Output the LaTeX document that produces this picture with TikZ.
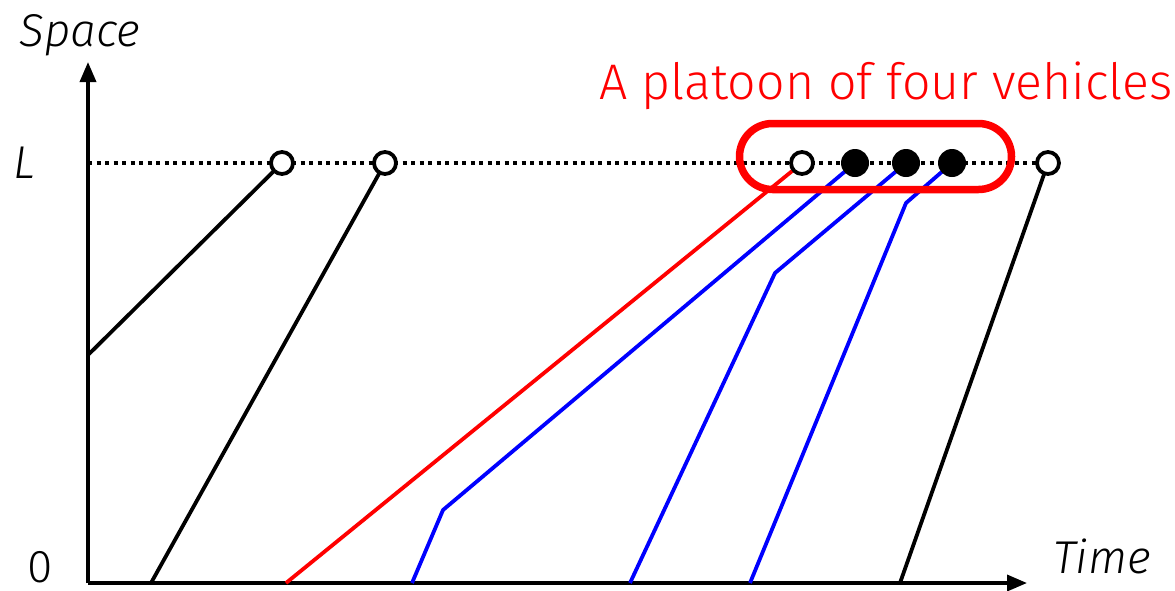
\documentclass[tikz,border=0pt]{standalone}
\usepackage{fontspec}
\setmainfont{Fira Sans Light}
\usetikzlibrary{arrows.meta}
\definecolor{pred}{RGB}{255,0,0}
\definecolor{pblue}{RGB}{0,0,255}
\begin{document}
\begin{tikzpicture}[x=1pt,y=-1pt,
  axis/.style={line width=3.5pt,-{Triangle[length=20pt,width=16pt]}},
  traj/.style={line width=3.8pt,line join=round},
  opendot/.style={circle,draw=black,fill=white,line width=3.8pt,minimum size=22pt,inner sep=0pt},
  fulldot/.style={circle,fill=black,minimum size=28pt,inner sep=0pt},
  lbl/.style={font=\fontsize{46}{46}\selectfont\itshape,inner sep=0pt},
  lblup/.style={font=\fontsize{46}{46}\selectfont,inner sep=0pt}]
\useasboundingbox (0,0) rectangle (1175,590);
% axes
\coordinate (O) at (88,583);
\coordinate (ytip) at (88,62);
\coordinate (xtip) at (1027,583);
\coordinate (Lstart) at (88,163);
\draw[axis] (O) -- (ytip);
\draw[axis] (O) -- (xtip);
% labels
\node[lbl] (space) at (80,35) {Space};
\node[lbl] (time) at (1102,556) {Time};
\node[lbl] (Llab) at (24,163) {L};
\node[lblup] (zero) at (40,567) {0};
\node[font=\fontsize{50}{50}\selectfont,text=pred,inner sep=0pt] (title) at (886,86) {A platoon of four vehicles};
% dotted L line
\coordinate (Lend) at (1048,163);
\draw[line width=3.5pt,dash pattern=on 4pt off 4.5pt] (Lstart) -- (Lend);
% trajectory points
\coordinate (a0) at (88,355);
\coordinate (b0) at (151,583);
\coordinate (r0) at (286,583);
\coordinate (u0) at (412,583);
\coordinate (u1) at (443,510);
\coordinate (v0) at (630,583);
\coordinate (v1) at (775,273);
\coordinate (w0) at (750,583);
\coordinate (w1) at (906,203);
\coordinate (c0) at (900,583);
% end points at L
\coordinate (A) at (282,163);
\coordinate (B) at (385,163);
\coordinate (R) at (802,163);
\coordinate (U) at (855,163);
\coordinate (V) at (906,163);
\coordinate (W) at (952,163);
\coordinate (C) at (1048,163);
% trajectories
\draw[traj] (a0) -- (A);
\draw[traj] (b0) -- (B);
\draw[traj,pred] (r0) -- (R);
\draw[traj,pblue] (u0) -- (u1) -- (U);
\draw[traj,pblue] (v0) -- (v1) -- (V);
\draw[traj,pblue] (w0) -- (w1) -- (W);
\draw[traj] (c0) -- (C);
% dots
\node[opendot] (dA) at (A) {};
\node[opendot] (dB) at (B) {};
\node[opendot] (dR) at (R) {};
\node[fulldot] (dU) at (U) {};
\node[fulldot] (dV) at (V) {};
\node[fulldot] (dW) at (W) {};
\node[opendot] (dC) at (C) {};
% platoon box
\node[draw=pred,line width=7.5pt,rounded corners=33pt,minimum width=272pt,minimum height=66pt,inner sep=0pt] (box) at (875.5,156.5) {};
\end{tikzpicture}
\end{document}
